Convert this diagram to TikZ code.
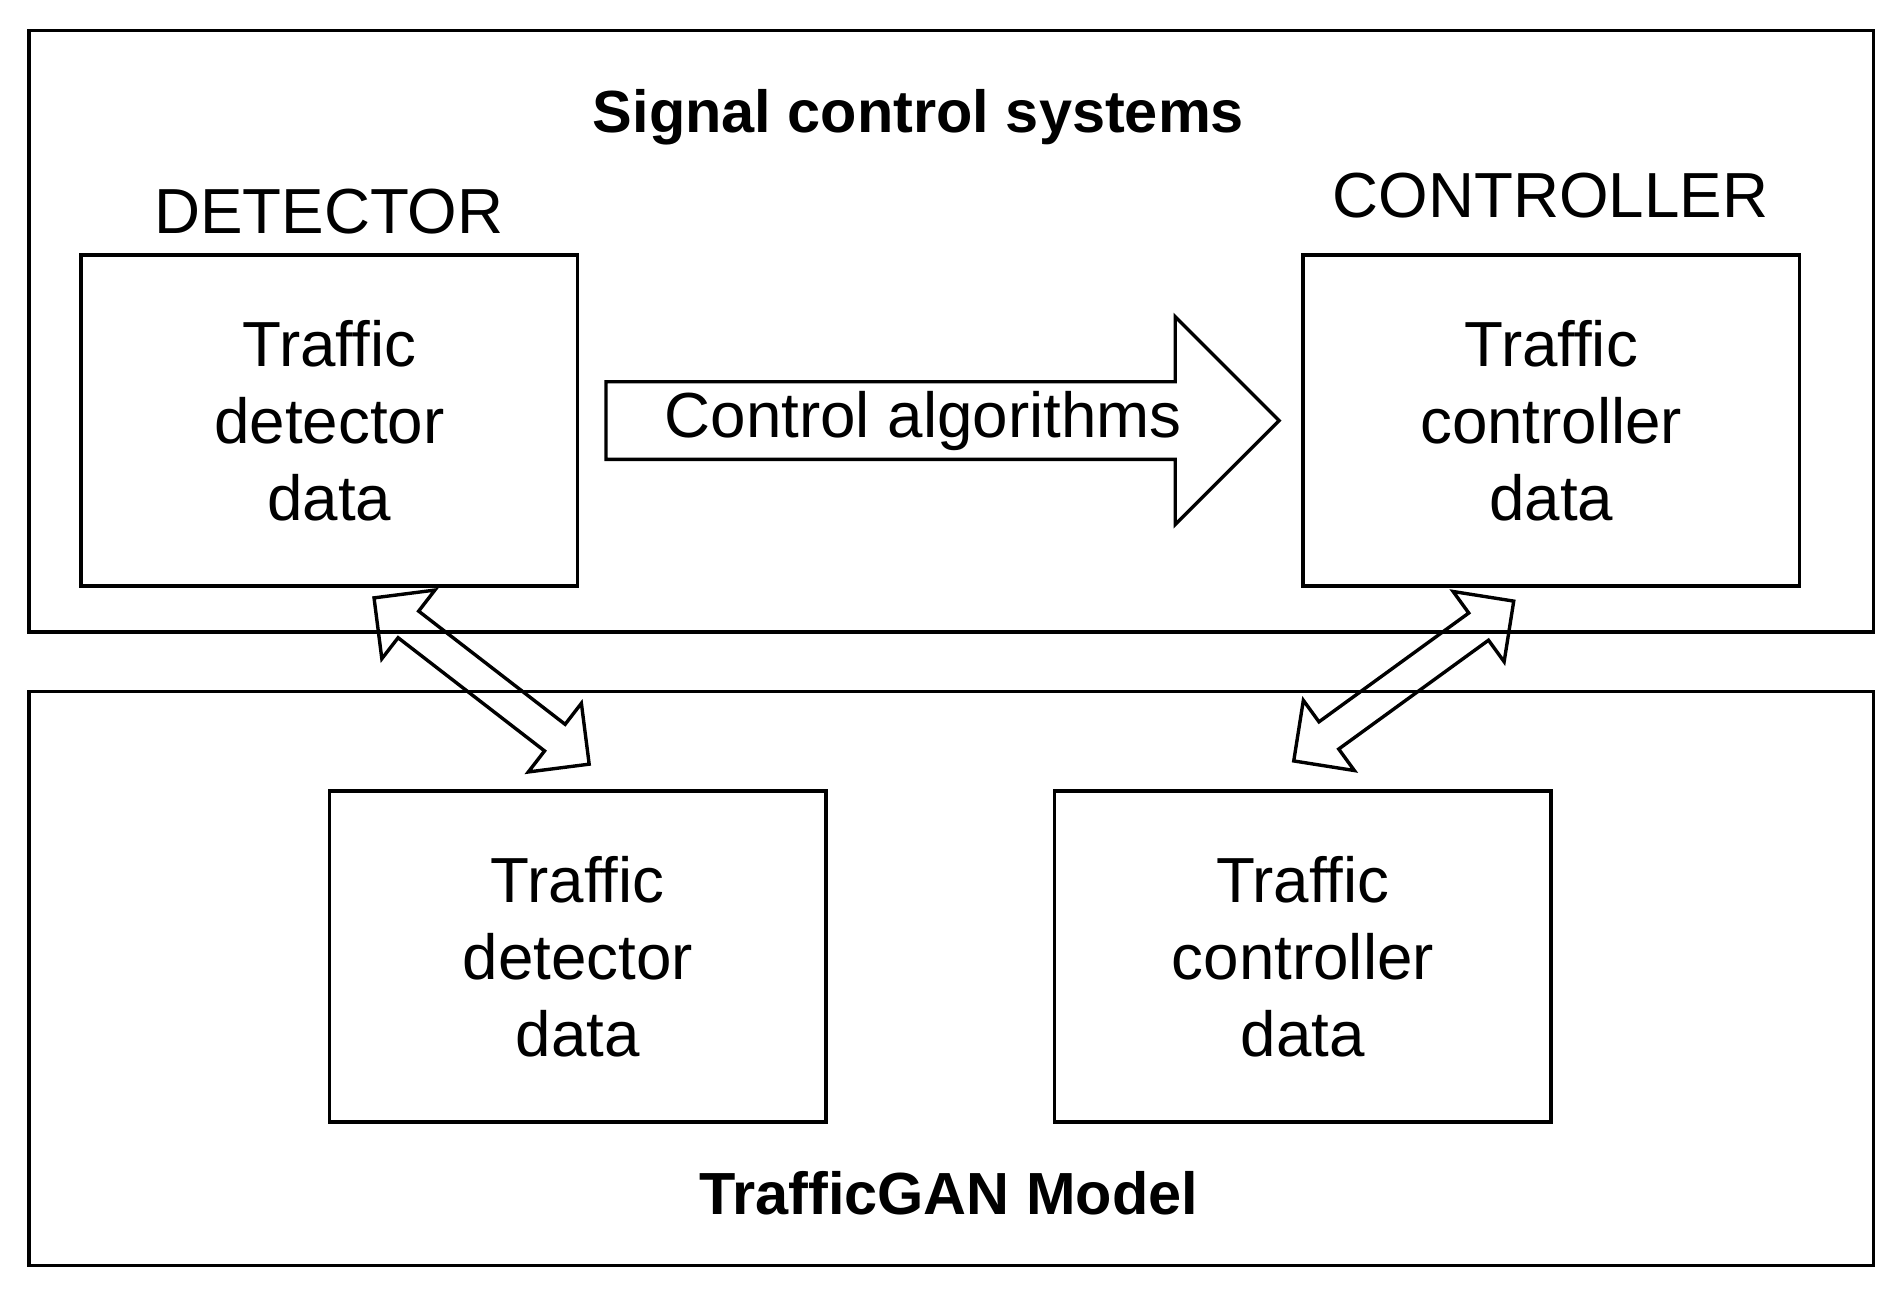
\documentclass[tikz,border=0pt]{standalone}
\usepackage{fontspec}
\setmainfont{Liberation Sans}
\usetikzlibrary{shapes.arrows}
\begin{document}
\begin{tikzpicture}[line width=0.8pt,
  panel/.style={draw, minimum width=15.26cm, inner sep=0pt},
  databox/.style={draw, minimum width=4.11cm, minimum height=2.74cm, align=center,
    font=\fontsize{15}{18.2}\selectfont},
  title/.style={font=\fontsize{14}{18}\selectfont\bfseries},
  label/.style={font=\fontsize{15}{18}\selectfont},
  dblarrow/.style={draw, double arrow, minimum height=2.25cm,
    double arrow head extend=0.22cm, inner xsep=0pt, inner ysep=0.125cm, anchor=center}]
\useasboundingbox (0,0) rectangle (15.68,-10.68);
% panels
\node[panel, minimum height=4.98cm] (signal) at (7.87,-2.74) {};
\node[panel, minimum height=4.75cm] (gan) at (7.87,-8.095) {};
\node[title] (signaltitle) at (7.6,-0.97) {Signal control systems};
\node[title] (gantitle) at (7.85,-9.87) {TrafficGAN Model};
% upper boxes
\node[label] (dettitle) at (2.72,-1.75) {DETECTOR};
\node[label] (ctrltitle) at (12.83,-1.62) {CONTROLLER};
\node[databox] (det) at (2.725,-3.48) {Traffic\\detector\\data};
\node[databox] (ctrl) at (12.835,-3.48) {Traffic\\controller\\data};
% lower boxes
\node[databox] (gandet) at (4.78,-7.915) {Traffic\\detector\\data};
\node[databox] (ganctrl) at (10.78,-7.915) {Traffic\\controller\\data};
% control algorithms arrow
\node[draw, single arrow, minimum height=5.57cm, minimum width=1.72cm,
  single arrow head extend=0.435cm, inner sep=0pt, label, anchor=tail]
  (algo) at (5.0,-3.48) {Control algorithms\hspace{0.9cm}};
% exchange arrows
\node[dblarrow, rotate=-37.7] (leftex) at (3.985,-5.635) {};
\node[dblarrow, rotate=36] (rightex) at (11.615,-5.635) {};
\end{tikzpicture}
\end{document}
